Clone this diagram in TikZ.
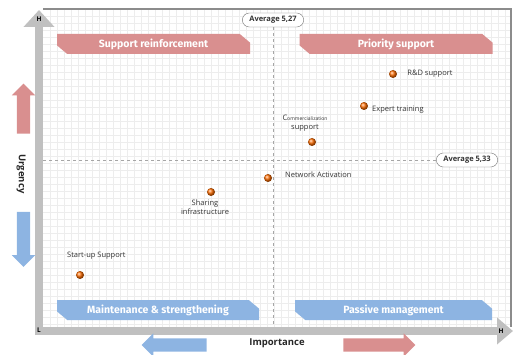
\documentclass[tikz,border=0pt]{standalone}
\usepackage{fontspec}
\setmainfont{Open Sans}
\newfontfamily\bannerfont{Fira Sans}
\usetikzlibrary{positioning, arrows.meta, shapes.misc, shapes.arrows}

\definecolor{pinkq}{RGB}{217,143,143}
\definecolor{blueq}{RGB}{141,180,226}
\definecolor{axisgray}{RGB}{192,192,192}

\begin{document}
\begin{tikzpicture}[
  x=1pt, y=-1pt,
  banner/.style={
    chamfered rectangle, chamfered rectangle corners={north east, south west},
    chamfered rectangle xsep=6pt, chamfered rectangle angle=50,
    minimum width=193pt, minimum height=20pt, inner sep=0pt,
    text=white, font=\bannerfont\bfseries\fontsize{10.5}{12}\selectfont
  },
  avgbox/.style={
    rounded rectangle, draw=black!55, fill=white, thin,
    minimum height=14pt, inner xsep=6pt, inner ysep=0pt,
    font=\bfseries\fontsize{7.5}{9}\selectfont, text=black!80
  },
  dot/.style={
    circle, inner sep=0pt, minimum size=8pt, ball color=orange!85!red
  },
  lbl/.style={
    inner sep=1pt, font=\fontsize{7.5}{9}\selectfont, text=black!80
  },
  bigarrow/.style={
    single arrow, single arrow head extend=5pt, single arrow head indent=0pt,
    inner sep=6.5pt, draw=none
  },
  axisbar/.style={
    line width=8pt, color=axisgray
  },
  avgline/.style={
    dashed, thin, color=black!35
  },
  axlbl/.style={
    inner sep=0pt, font=\bfseries\fontsize{6.5}{7}\selectfont
  }
]
\useasboundingbox (0,0) rectangle (513,355);

% ================= Plot area =================
\fill[white] (43,9) rectangle (511,327);
\foreach \gx in {50,57,...,508} \draw[black!7] (\gx,9) -- (\gx,327);
\foreach \gy in {16,23,...,324} \draw[black!7] (43,\gy) -- (511,\gy);
\draw[black!45, line width=1.6pt] (43,9) -- (511,9) -- (511,327);

% ================= Axes =================
\coordinate (vbot) at (39,335);
\coordinate (vtop) at (39,10);
\coordinate (hleft) at (35,331);
\coordinate (hright) at (513,331);
\draw[axisbar, -{Triangle[length=17pt, width=30pt]}] (vbot) -- (vtop);
\draw[axisbar, -{Triangle[length=16pt, width=26pt]}] (hleft) -- (hright);
\node[axlbl] (vH) at (39,19) {H};
\node[axlbl] (hL) at (39,330) {L};
\node[axlbl] (hH) at (501,331) {H};

% ================= Averages =================
\node[avgbox] (avgX) at (273,20) {Average 5,27};
\node[avgbox] (avgY) at (467,160) {Average 5,33};
\coordinate (avgXend) at (273,327);
\coordinate (avgYend) at (43,160);
\draw[avgline] (avgX.south) -- (avgXend);
\draw[avgline] (avgY.west) -- (avgYend);

% ================= Quadrant banners =================
\node[banner, fill=pinkq] (support) at (153.5,44) {Support reinforcement};
\node[banner, fill=pinkq] (priority) at (396,44) {Priority support};
\node[banner, fill=blueq, minimum width=202pt] (maint) at (158,310) {Maintenance \& strengthening};
\node[banner, fill=blueq, minimum width=197pt] (passive) at (393.5,310) {Passive management};

% ================= Items =================
\node[dot] (rnd) at (393,74) {};
\node[lbl, right=9pt of rnd] (rndL) {R\&D support};

\node[dot] (expert) at (364,106) {};
\node[lbl, anchor=west] (expertL) at (371,110) {Expert training};

\node[dot] (comm) at (312,142) {};
\node[lbl, align=center, anchor=south] (commL) at (305,133)
  {{\fontsize{7.5}{7}\selectfont C}{\fontsize{5}{7}\selectfont ommercialization}\\support};

\node[dot] (network) at (268,178) {};
\node[lbl, anchor=west] (networkL) at (284,175) {Network Activation};

\node[dot] (sharing) at (211,192) {};
\node[lbl, align=center, anchor=north] (sharingL) at (205,199) {Sharing\\infrastructure};

\node[dot] (startup) at (80,275) {};
\node[lbl, anchor=west] (startupL) at (66,256) {Start-up Support};

% ================= Axis titles =================
\node[font=\bfseries\fontsize{9.5}{11}\selectfont, text=black!85, rotate=-90] (urgency) at (21,174) {Urgency};
\node[font=\bfseries\fontsize{9.5}{11}\selectfont, text=black!85] (importance) at (277,343) {Importance};

\node[bigarrow, fill=pinkq, minimum height=50pt, shape border rotate=90] (upArr) at (23.5,112) {};
\node[bigarrow, fill=blueq, minimum height=55pt, shape border rotate=270] (downArr) at (23.5,236) {};
\node[bigarrow, fill=blueq, minimum height=65pt, shape border rotate=180] (leftArr) at (177.5,345) {};
\node[bigarrow, fill=pinkq, minimum height=72pt] (rightArr) at (376,345) {};

\end{tikzpicture}
\end{document}
